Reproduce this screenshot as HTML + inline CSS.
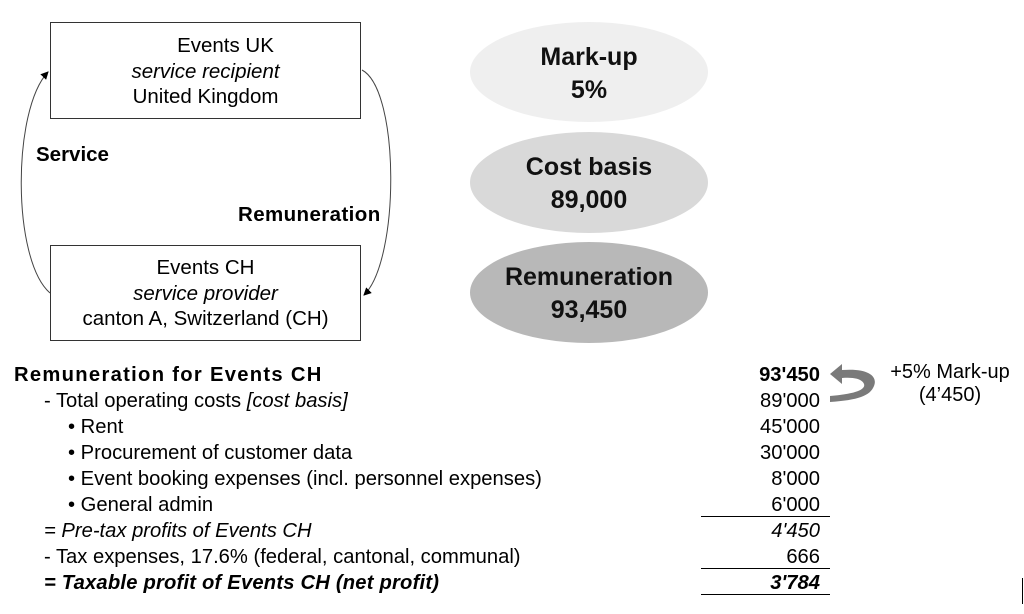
<!DOCTYPE html>
<html><head><meta charset="utf-8"><style>
body{margin:0;width:1024px;height:614px;background:#fff;position:relative;overflow:hidden;font-family:"Liberation Sans",sans-serif;color:#000}
.a{position:absolute}
.box{position:absolute;border:1.5px solid #333;box-sizing:border-box;text-align:center;font-size:20.5px;line-height:25.5px;white-space:nowrap}
.ell{position:absolute;border-radius:50%;text-align:center;font-weight:bold;font-size:25px;line-height:33px;display:flex;flex-direction:column;justify-content:center;color:#111;padding-top:3px;box-sizing:border-box}
.row{position:absolute;left:0;width:830px;font-size:20.2px;height:26px;line-height:26px}
.row .l{position:absolute;left:0;white-space:nowrap}
.row .r{position:absolute;right:10px}
.hl{position:absolute;left:701px;width:129px;height:0;border-top:1.3px solid #000}
</style></head><body>
<div class="box" style="left:50px;top:22px;width:311px;height:97px;padding-top:10px"><span style="padding-left:40px">Events UK</span><br><i>service recipient</i><br>United Kingdom</div>
<div class="box" style="left:50px;top:245px;width:311px;height:96px;padding-top:9px">Events CH<br><i>service provider</i><br>canton A, Switzerland (CH)</div>
<div class="a" style="left:36px;top:143px;font-weight:bold;font-size:20.5px">Service</div>
<div class="a" style="left:238px;top:203px;font-weight:bold;font-size:20.5px;letter-spacing:0.4px">Remuneration</div>
<svg class="a" style="left:0;top:0" width="420" height="350">
<defs><marker id="m" markerWidth="8" markerHeight="8" refX="7" refY="4" orient="auto"><path d="M0,0 L8,4 L0,8 z" fill="#000"/></marker></defs>
<path d="M50,293 C12,260 12,110 48,72" fill="none" stroke="#444" stroke-width="1" marker-end="url(#m)"/>
<path d="M362,70 C400,90 400,260 364,295" fill="none" stroke="#444" stroke-width="1" marker-end="url(#m)"/>
</svg>
<div class="ell" style="left:470px;top:22px;width:238px;height:100px;background:#efefef">Mark-up<br>5%</div>
<div class="ell" style="left:470px;top:132px;width:238px;height:101px;background:#d9d9d9">Cost basis<br>89,000</div>
<div class="ell" style="left:470px;top:242px;width:238px;height:101px;background:#b8b8b8">Remuneration<br>93,450</div>
<div class="row" style="top:362px;font-weight:bold"><span class="l" style="left:14px;letter-spacing:1.3px">Remuneration for Events CH</span><span class="r">93'450</span></div>
<div class="row" style="top:388px"><span class="l" style="left:44px">- Total operating costs <i>[cost basis]</i></span><span class="r">89'000</span></div>
<div class="row" style="top:414px"><span class="l" style="left:68px">• Rent</span><span class="r">45'000</span></div>
<div class="row" style="top:440px"><span class="l" style="left:68px">• Procurement of customer data</span><span class="r">30'000</span></div>
<div class="row" style="top:466px"><span class="l" style="left:68px">• Event booking expenses (incl. personnel expenses)</span><span class="r">8'000</span></div>
<div class="row" style="top:492px"><span class="l" style="left:68px">• General admin</span><span class="r">6'000</span></div>
<div class="row" style="top:518px;font-style:italic"><span class="l" style="left:44px">= Pre-tax profits of Events CH</span><span class="r">4'450</span></div>
<div class="row" style="top:544px"><span class="l" style="left:44px">- Tax expenses, 17.6% (federal, cantonal, communal)</span><span class="r">666</span></div>
<div class="row" style="top:570px;font-style:italic;font-weight:bold"><span class="l" style="left:44px;letter-spacing:0.2px">= Taxable profit of Events CH (net profit)</span><span class="r">3'784</span></div>
<div class="hl" style="top:516px"></div>
<div class="hl" style="top:568px"></div>
<div class="hl" style="top:594px"></div>
<svg class="a" style="left:828px;top:360px" width="60" height="50">
<path d="M2,14 L14,4 L14,10 C40,8 50,16 46,26 C42,36 30,40 2,42 L2,36 C26,34 38,30 36,24 C34,19 26,17 14,18 L14,24 Z" fill="#7a7a7a"/>
</svg>
<div class="a" style="left:880px;top:361px;width:140px;text-align:center;font-size:20px;line-height:23px">+5% Mark-up<br>(4’450)</div>
<div class="a" style="left:1022px;top:578px;width:1px;height:26px;background:#000"></div>
</body></html>
